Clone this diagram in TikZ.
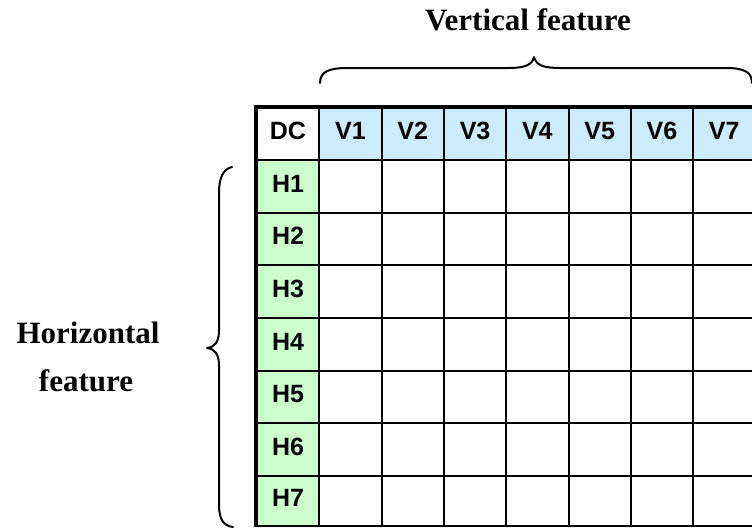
\documentclass[tikz,border=0pt]{standalone}
\usepackage{fontspec}
\setmainfont{Liberation Serif}
\newfontfamily\cellfont{Liberation Sans}
\definecolor{hdrblue}{HTML}{CCEBFC}
\definecolor{rowgreen}{HTML}{CCFFCC}
\begin{document}
\begin{tikzpicture}[x=1pt,y=-1pt,
  gridline/.style={line width=2pt,black},
  frameline/.style={line width=4pt,black,line join=miter},
  bracepath/.style={line width=2pt,black,line cap=round,line join=round},
  celltext/.style={font=\cellfont\bfseries\fontsize{25}{25}\selectfont,inner sep=0pt,
    text height=17.9pt,text depth=0pt,text=black},
  captext/.style={font=\bfseries\fontsize{31}{31}\selectfont,inner sep=0pt,anchor=base}]
\useasboundingbox (0,0) rectangle (752,528);

% cell fills
\fill[hdrblue] (319.3,107) rectangle (760,159.8);
\fill[rowgreen] (256,159.8) rectangle (319.3,526);

% inner grid lines
\foreach \i in {1,...,8}
  \draw[gridline] ({257+62.3*\i},107) -- ({257+62.3*\i},526);
\foreach \y in {159.8,212.5,265.2,317.9,370.6,423.3,476,526}
  \draw[gridline] (256,\y) -- (760,\y);

% heavy frame on the left and top
\draw[frameline] (256,527) -- (256,107) -- (760,107);

% header row
\node[celltext] (dc) at (288,130.5) {DC};
\foreach \i in {1,...,7}
  \node[celltext] (v\i) at ({257+62.3*\i+31.15},130.5) {V\i};

% row labels
\foreach \i/\yc in {1/183.2,2/235.9,3/288.6,4/341.3,5/394,6/446.7,7/498}
  \node[celltext] (h\i) at (288,\yc) {H\i};

% brace over the columns
\draw[bracepath] (320,83) .. controls (320,71) and (330,68) .. (348,68)
  -- (508,68) .. controls (525,68) and (532,65) .. (534,57)
  .. controls (536,65) and (543,68) .. (560,68)
  -- (726,68) .. controls (744,68) and (752,72) .. (752,83);

% brace beside the rows
\draw[bracepath] (232,167) .. controls (223,169) and (219,178) .. (219,193)
  -- (219,330) .. controls (219,342) and (215,347) .. (207,348)
  .. controls (215,349) and (219,354) .. (219,366)
  -- (219,505) .. controls (219,520) and (224,526) .. (233,527);

% captions
\node[captext] (vcap) at (528,30) {Vertical feature};
\node[captext] (hcap1) at (88,343) {Horizontal};
\node[captext] (hcap2) at (86,391) {feature};
\end{tikzpicture}
\end{document}
